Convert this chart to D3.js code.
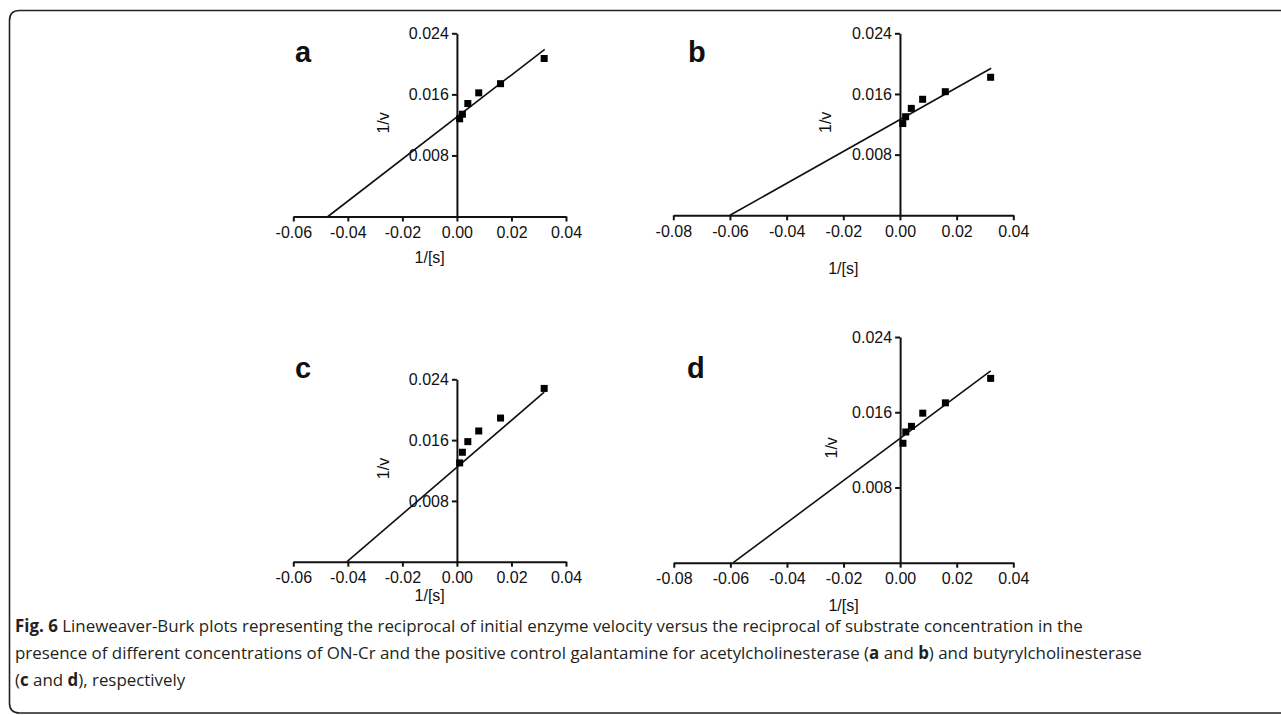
<!DOCTYPE html>
<html>
<head>
<meta charset="utf-8">
<script src="https://cdn.jsdelivr.net/npm/d3@7"></script>
<style>
  body { margin: 0; background: #fff; }
  svg { display: block; }
  .panel text { font-family: "Liberation Sans", Arial, sans-serif; fill: #111; }
  .caption { font-family: "Open Sans", "Noto Sans", sans-serif; font-size: 16.9px; fill: #231f20; }
</style>
</head>
<body>
<svg id="fig" width="1281" height="715"></svg>
<script>
// DATA -----------------------------------------------------------------------

// reciprocal substrate concentrations (same in every panel)
var invS = [0.001, 0.002, 0.004, 0.008, 0.016, 0.032];

// reciprocal velocities
var invVa = [0.0128, 0.0134, 0.0148, 0.0162, 0.0174, 0.0207];
var invVb = [0.0121, 0.0130, 0.0141, 0.0153, 0.0163, 0.0182];
var invVc = [0.0130, 0.0144, 0.0158, 0.0172, 0.0189, 0.0228];
var invVd = [0.0127, 0.0139, 0.0145, 0.0159, 0.0170, 0.0196];

// fitted line end points [1/[s], 1/v]
var fitA = [[-0.0473, 0], [0.0322, 0.0219]];
var fitB = [[-0.0600, 0], [0.0322, 0.0194]];
var fitC = [[-0.0403, 0], [0.0320, 0.0223]];
var fitD = [[-0.0590, 0], [0.0320, 0.0204]];

// tick values
var xTicksShort = [-0.06, -0.04, -0.02, 0.00, 0.02, 0.04];
var xTicksLong = [-0.08, -0.06, -0.04, -0.02, 0.00, 0.02, 0.04];
var yTicks = [0.008, 0.016, 0.024];

var panelLetters = ["a", "b", "c", "d"];
var xLabel = "1/[s]";
var yLabel = "1/v";


// LAYOUT ---------------------------------------------------------------------

var panels = [
    { letter: panelLetters[0], v: invVa, fit: fitA, xTicks: xTicksShort,
      xr: [293.3, 566], yr: [216.5, 33.3], lx: 295, ly: 62, vx: 383, sy: 263 },
    { letter: panelLetters[1], v: invVb, fit: fitB, xTicks: xTicksLong,
      xr: [673.3, 1013.3], yr: [215.3, 33.3], lx: 688, ly: 62, vx: 825, sy: 274 },
    { letter: panelLetters[2], v: invVc, fit: fitC, xTicks: xTicksShort,
      xr: [293.3, 566], yr: [561.7, 379.3], lx: 295, ly: 378, vx: 383, sy: 601 },
    { letter: panelLetters[3], v: invVd, fit: fitD, xTicks: xTicksLong,
      xr: [673.8, 1013.3], yr: [562.7, 337], lx: 687, ly: 378, vx: 831, sy: 611 }
];

var svg = d3.select("#fig");

// hyphen minus like the original figure
var loc = d3.formatLocale({ decimal: ".", thousands: ",", grouping: [3],
                            currency: ["", ""], minus: "-" });
var fmtX = loc.format(".2f");
var fmtY = loc.format(".3f");


// FRAME ----------------------------------------------------------------------

var r = 10;
svg.append("path")
   .attr("d", "M1290,10.5 H" + (9.5 + r) + " Q9.5,10.5 9.5," + (10.5 + r) +
              " V" + (713 - r) + " Q9.5,713 " + (9.5 + r) + ",713 H1290")
   .attr("fill", "none")
   .attr("stroke", "#222")
   .attr("stroke-width", 1.6);


// PANELS ---------------------------------------------------------------------

function drawPanel(p) {
    var g = svg.append("g").attr("class", "panel");
    var x = d3.scaleLinear().domain([p.xTicks[0], 0.04]).range(p.xr);
    var y = d3.scaleLinear().domain([0, 0.024]).range(p.yr);

    // x axis
    var gx = g.append("g")
        .attr("transform", "translate(0," + y(0) + ")")
        .call(d3.axisBottom(x).tickValues(p.xTicks).tickFormat(fmtX)
                .tickSize(5).tickSizeOuter(0).tickPadding(5));

    // y axis through x = 0
    var gy = g.append("g")
        .attr("transform", "translate(" + x(0) + ",0)")
        .call(d3.axisLeft(y).tickValues(yTicks).tickFormat(fmtY)
                .tickSize(5).tickSizeOuter(0).tickPadding(3));

    [gx, gy].forEach(function(a) {
        a.select(".domain").attr("stroke", "#111").attr("stroke-width", 2);
        a.selectAll(".tick line").attr("stroke", "#111").attr("stroke-width", 2);
        a.selectAll(".tick text").attr("font-size", 16)
         .attr("font-family", "Liberation Sans, Arial, sans-serif").attr("fill", "#111");
    });

    // fit line
    g.append("line")
        .attr("x1", x(p.fit[0][0])).attr("y1", y(p.fit[0][1]))
        .attr("x2", x(p.fit[1][0])).attr("y2", y(p.fit[1][1]))
        .attr("stroke", "#111").attr("stroke-width", 1.6);

    // points
    var s = 7;
    g.selectAll("rect.pt").data(d3.zip(invS, p.v)).enter()
        .append("rect")
        .attr("class", "pt")
        .attr("x", function(d) { return x(d[0]) - s / 2; })
        .attr("y", function(d) { return y(d[1]) - s / 2; })
        .attr("width", s).attr("height", s)
        .attr("fill", "#000");

    // panel letter
    g.append("text")
        .attr("x", p.lx).attr("y", p.ly)
        .attr("font-size", 29).attr("font-weight", "bold")
        .text(p.letter);

    // axis titles
    g.append("text")
        .attr("x", (p.xr[0] + p.xr[1]) / 2).attr("y", p.sy)
        .attr("text-anchor", "middle").attr("font-size", 16)
        .text(xLabel);
    var cy = (p.yr[0] + p.yr[1]) / 2 - 2;
    g.append("text")
        .attr("transform", "translate(" + p.vx + "," + cy + ") rotate(-90)")
        .attr("text-anchor", "middle").attr("dy", "0.35em").attr("font-size", 16)
        .text(yLabel);
}

panels.forEach(drawPanel);


// CAPTION --------------------------------------------------------------------

var capLines = [
    [["Fig. 6", true], [" Lineweaver-Burk plots representing the reciprocal of initial enzyme velocity versus the reciprocal of substrate concentration in the", false]],
    [["presence of different concentrations of ON-Cr and the positive control galantamine for acetylcholinesterase (", false], ["a", true], [" and ", false], ["b", true], [") and butyrylcholinesterase", false]],
    [["(", false], ["c", true], [" and ", false], ["d", true], ["), respectively", false]]
];

capLines.forEach(function(line, i) {
    var t = svg.append("text").attr("class", "caption")
        .attr("x", 15).attr("y", 632 + i * 27);
    line.forEach(function(seg) {
        t.append("tspan")
         .attr("font-weight", seg[1] ? "bold" : "normal")
         .text(seg[0]);
    });
});
</script>
</body>
</html>
